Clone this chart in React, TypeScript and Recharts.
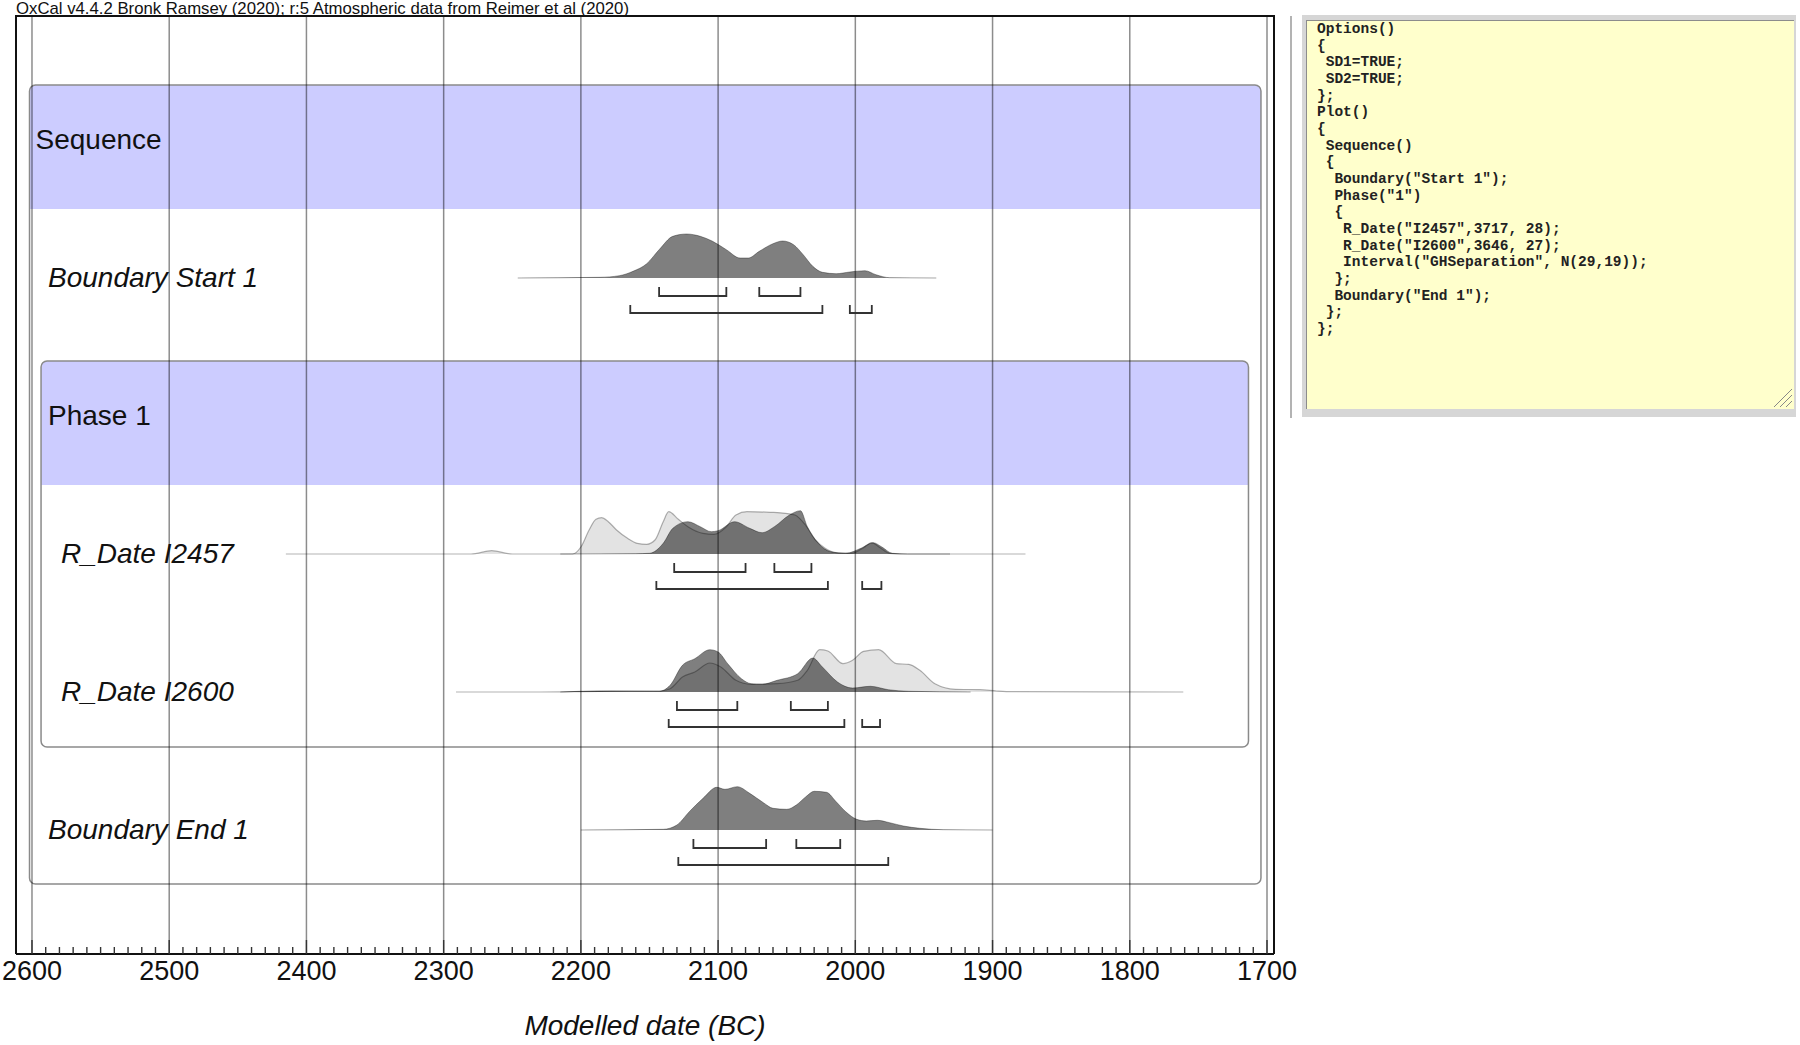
import React from 'react';
import { ComposedChart, Area, Line, XAxis, YAxis, ReferenceLine, ReferenceArea } from 'recharts';

type Pt = [number, number];
type Range = [number, number];

// relative probability: [year BC, height]
const boundaryStart1: Pt[] = [
  [2246, 0], [2186, 0.7], [2172, 2.3], [2162, 6.7], [2152, 14.3], [2143, 28.3], [2133, 41.7],
  [2123, 44], [2113, 41.7], [2104, 36.7], [2094, 28.3], [2084, 20], [2078, 20], [2070, 26.7],
  [2060, 34.3], [2053, 37], [2045, 33.3], [2038, 23.3], [2031, 11.7], [2024, 5.7], [2014, 4.3],
  [2004, 6], [1993, 7.3], [1985, 3.3], [1975, 0.3], [1941, 0],
];

const i2457Likelihood: Pt[] = [
  [2415, 0], [2280, 0], [2265, 3.3], [2250, 0], [2206, 0], [2200, 7], [2194, 24], [2189, 34.7],
  [2185, 36.3], [2180, 32.3], [2174, 24], [2166, 15.7], [2159, 10.7], [2152, 9.7], [2146, 14],
  [2140, 32.3], [2136, 42.3], [2129, 34.7], [2122, 27.3], [2111, 20.7], [2103, 19.7], [2094, 27.3],
  [2087, 39], [2079, 42.3], [2062, 41.7], [2051, 40.7], [2044, 39], [2036, 28.3], [2029, 14],
  [2022, 5.7], [2014, 1.3], [2003, 0.7], [1994, 6.3], [1988, 11.3], [1983, 7.3], [1975, 0.7],
  [1966, 0], [1876, 0],
];

const i2457Posterior: Pt[] = [
  [2215, 0], [2160, 0.3], [2150, 0.7], [2140, 10.7], [2133, 25.7], [2122, 32.3], [2113, 27.3],
  [2105, 22.3], [2100, 23.3], [2088, 32.3], [2077, 25.7], [2068, 21.3], [2059, 27.3], [2048, 39],
  [2040, 43.3], [2035, 27.3], [2027, 10.7], [2018, 2.3], [2007, 0.7], [1996, 5.7], [1987, 11.3],
  [1981, 7.3], [1973, 0.7], [1962, 0], [1931, 0],
];

const i2600Likelihood: Pt[] = [
  [2291, 0], [2230, 0], [2187, 0.7], [2143, 1], [2135, 3.3], [2126, 15], [2117, 20], [2106, 29],
  [2098, 25], [2087, 11.7], [2076, 7.7], [2057, 8.3], [2042, 11.7], [2035, 21.7], [2026, 42.3],
  [2020, 41], [2009, 28.3], [2002, 31.7], [1994, 40.7], [1983, 42.3], [1970, 28.3], [1961, 27.7],
  [1953, 21.7], [1942, 8.3], [1927, 2.7], [1909, 2.3], [1897, 1], [1886, 0.3], [1761, 0],
];

const i2600Posterior: Pt[] = [
  [2215, 0], [2187, 1], [2143, 0.7], [2135, 6.7], [2126, 26.7], [2117, 33.3], [2106, 42.3],
  [2100, 40], [2093, 28.3], [2083, 13.3], [2076, 8.3], [2068, 7.7], [2057, 11.7], [2042, 18.3],
  [2031, 34], [2024, 25], [2013, 10], [2002, 4], [1989, 5.7], [1976, 2.3], [1961, 0.7], [1916, 0],
];

const boundaryEnd1: Pt[] = [
  [2200, 0], [2140, 0.7], [2130, 5], [2121, 18.3], [2111, 31.7], [2101, 42.7], [2095, 40.7],
  [2086, 43.3], [2077, 36.7], [2067, 27.3], [2060, 21.7], [2050, 20.7], [2043, 25], [2036, 33.3],
  [2030, 38.7], [2021, 37.7], [2014, 28.3], [2007, 18.3], [1999, 10.7], [1992, 9], [1984, 9.7],
  [1975, 7.3], [1965, 4], [1953, 1.7], [1936, 0.3], [1900, 0],
];

// hpd ranges, years BC
const start1Hpd68: Range[] = [[2143, 2094], [2070, 2040]];
const start1Hpd95: Range[] = [[2164, 2024], [2004, 1988]];
const i2457Hpd68: Range[] = [[2132, 2080], [2059, 2032]];
const i2457Hpd95: Range[] = [[2145, 2020], [1995, 1981]];
const i2600Hpd68: Range[] = [[2130, 2086], [2047, 2020]];
const i2600Hpd95: Range[] = [[2136, 2008], [1995, 1982]];
const end1Hpd68: Range[] = [[2118, 2065], [2043, 2011]];
const end1Hpd95: Range[] = [[2129, 1976]];

const centuryTicks = [2600, 2500, 2400, 2300, 2200, 2100, 2000, 1900, 1800, 1700];
const decadeTicks = centuryTicks
  .slice(0, -1)
  .flatMap((c) => Array.from({ length: 10 }, (_, i) => c - i * 10))
  .concat(1700);

const codeLines = [
  'Options()',
  '{',
  ' SD1=TRUE;',
  ' SD2=TRUE;',
  '};',
  'Plot()',
  '{',
  ' Sequence()',
  ' {',
  '  Boundary("Start 1");',
  '  Phase("1")',
  '  {',
  '   R_Date("I2457",3717, 28);',
  '   R_Date("I2600",3646, 27);',
  '   Interval("GHSeparation", N(29,19));',
  '  };',
  '  Boundary("End 1");',
  ' };',
  '};',
];

const titleText = 'OxCal v4.4.2 Bronk Ramsey (2020); r:5 Atmospheric data from Reimer et al (2020)';

// layout
const W = 1800;
const H = 1045;
const PLOT_TOP = 16;
const PLOT_LEFT = 16;
const PLOT_RIGHT = 1274;
const AXIS_Y = 954;
const X_DOMAIN: [number, number] = [1694.9, 2611.65];
const SANS = '"Liberation Sans", Arial, Helvetica, sans-serif';

const rows = [
  { name: 'Boundary Start 1', labelX: 48, base: 278, likelihood: null as Pt[] | null, posterior: boundaryStart1, hpd68: start1Hpd68, hpd95: start1Hpd95 },
  { name: 'R_Date I2457', labelX: 61, base: 554, likelihood: i2457Likelihood, posterior: i2457Posterior, hpd68: i2457Hpd68, hpd95: i2457Hpd95 },
  { name: 'R_Date I2600', labelX: 61, base: 692, likelihood: i2600Likelihood, posterior: i2600Posterior, hpd68: i2600Hpd68, hpd95: i2600Hpd95 },
  { name: 'Boundary End 1', labelX: 48, base: 830, likelihood: null as Pt[] | null, posterior: boundaryEnd1, hpd68: end1Hpd68, hpd95: end1Hpd95 },
];

const groups = [
  { name: 'Sequence', from: 2601.8, to: 1704.4, top: 85, headBottom: 209, bottom: 884, labelX: 35.5, labelY: 149 },
  { name: 'Phase 1', from: 2593.4, to: 1713.5, top: 361, headBottom: 485, bottom: 747, labelX: 48, labelY: 425 },
];

const toArea = (pts: Pt[], base: number) => pts.map(([year, p]) => ({ year, y: base - p }));

const bracket = ([a, b]: Range, yLine: number, yTop: number) => [
  { year: a, y: yTop },
  { year: a, y: yLine },
  { year: b, y: yLine },
  { year: b, y: yTop },
];

function YearTick(props: any) {
  const { x, y, payload } = props;
  const yr = payload.value as number;
  const major = yr % 100 === 0;
  return (
    <g>
      <line x1={x} x2={x} y1={y} y2={y - (major ? 14 : 7)} stroke="#333" strokeWidth={1.4} />
      {major && (
        <text x={x} y={y + 25.5} textAnchor="middle" fontSize={27} fontFamily={SANS} fill="#111">
          {yr}
        </text>
      )}
    </g>
  );
}

const headShape = (p: any) => {
  const { x, y, width, height } = p;
  const r = 6;
  return (
    <path
      d={`M${x},${y + height} V${y + r} Q${x},${y} ${x + r},${y} H${x + width - r} Q${x + width},${y} ${x + width},${y + r} V${y + height} Z`}
      fill="#ccccff"
    />
  );
};

const boxShape = (p: any) => (
  <rect x={p.x} y={p.y} width={p.width} height={p.height} rx={6} ry={6} fill="none" stroke="#8a8a8a" strokeWidth={1.5} />
);

export default function App() {
  return (
    <div style={{ position: 'absolute', left: 0, top: 0, width: W, height: H, background: '#fff', overflow: 'hidden' }}>
      <ComposedChart
        width={W}
        height={H}
        margin={{ top: PLOT_TOP, left: PLOT_LEFT, right: W - PLOT_RIGHT, bottom: 0 }}
      >
        <XAxis
          type="number"
          dataKey="year"
          domain={X_DOMAIN}
          reversed
          allowDataOverflow
          ticks={decadeTicks}
          interval={0}
          height={H - AXIS_Y}
          tickSize={0}
          tickMargin={0}
          tickLine={false}
          axisLine={{ stroke: '#111', strokeWidth: 2 }}
          tick={(p: any) => <YearTick {...p} />}
        />
        <YAxis type="number" domain={[PLOT_TOP, AXIS_Y]} reversed allowDataOverflow hide />

        {groups.map((g) => (
          <ReferenceArea key={g.name + 'h'} x1={g.from} x2={g.to} y1={g.top} y2={g.headBottom} shape={headShape} />
        ))}
        {groups.map((g) => (
          <ReferenceArea key={g.name + 'b'} x1={g.from} x2={g.to} y1={g.top} y2={g.bottom} shape={boxShape} />
        ))}

        {centuryTicks.map((yr) => (
          <ReferenceLine key={yr} x={yr} stroke="#000" strokeOpacity={0.45} strokeWidth={1.5} />
        ))}

        {rows.map((r) =>
          r.likelihood ? (
            <Area
              key={r.name + 'l'}
              data={toArea(r.likelihood, r.base)}
              dataKey="y"
              baseValue={r.base}
              type="monotone"
              fill="#000"
              fillOpacity={0.11}
              stroke="#000"
              strokeOpacity={0.3}
              strokeWidth={1.2}
              dot={false}
              activeDot={false}
              isAnimationActive={false}
            />
          ) : null
        )}
        {rows.map((r) => (
          <Area
            key={r.name + 'p'}
            data={toArea(r.posterior, r.base)}
            dataKey="y"
            baseValue={r.base}
            type="monotone"
            fill="#000"
            fillOpacity={0.5}
            stroke="#000"
            strokeOpacity={0.35}
            strokeWidth={1}
            dot={false}
            activeDot={false}
            isAnimationActive={false}
          />
        ))}

        {rows.flatMap((r) => [
          ...r.hpd68.map((rg, i) => (
            <Line
              key={r.name + '68' + i}
              data={bracket(rg, r.base + 18, r.base + 9)}
              dataKey="y"
              type="linear"
              stroke="#333"
              strokeWidth={1.8}
              dot={false}
              activeDot={false}
              isAnimationActive={false}
            />
          )),
          ...r.hpd95.map((rg, i) => (
            <Line
              key={r.name + '95' + i}
              data={bracket(rg, r.base + 35, r.base + 27)}
              dataKey="y"
              type="linear"
              stroke="#333"
              strokeWidth={1.8}
              dot={false}
              activeDot={false}
              isAnimationActive={false}
            />
          )),
        ])}
      </ComposedChart>

      <svg width={W} height={H} style={{ position: 'absolute', left: 0, top: 0, pointerEvents: 'none' }}>
        <text
          x={16}
          y={14}
          fontSize={17}
          fontFamily={'"Liberation Sans Narrow", ' + SANS}
          textLength={613}
          lengthAdjust="spacingAndGlyphs"
          fill="#111"
        >
          {titleText}
        </text>
        <polyline
          points={`${PLOT_LEFT},${AXIS_Y} ${PLOT_LEFT},${PLOT_TOP} ${PLOT_RIGHT},${PLOT_TOP} ${PLOT_RIGHT},${AXIS_Y}`}
          fill="none"
          stroke="#111"
          strokeWidth={2}
        />
        {groups.map((g) => (
          <text key={g.name} x={g.labelX} y={g.labelY} fontSize={28} fontFamily={SANS} fill="#111">
            {g.name}
          </text>
        ))}
        {rows.map((r) => (
          <text key={r.name} x={r.labelX} y={r.base + 9} fontSize={28} fontStyle="italic" fontFamily={SANS} fill="#111">
            {r.name}
          </text>
        ))}
        <text x={645} y={1035} textAnchor="middle" fontSize={28} fontStyle="italic" fontFamily={SANS} fill="#111">
          Modelled date (BC)
        </text>
        <line x1={1291} x2={1291} y1={16} y2={418} stroke="#9a9a9a" strokeWidth={1.5} />
      </svg>

      <div style={{ position: 'absolute', left: 1302, top: 15, width: 494, height: 402, background: '#d6d6d6' }} />
      <div
        style={{
          position: 'absolute',
          left: 1306,
          top: 20,
          width: 488,
          height: 389,
          boxSizing: 'border-box',
          background: '#ffffcc',
          borderTop: '1px solid #8c8c8c',
          borderLeft: '1px solid #8c8c8c',
        }}
      >
        <pre
          style={{
            margin: 0,
            padding: '0 0 0 10px',
            fontFamily: '"Liberation Mono", "DejaVu Sans Mono", monospace',
            fontSize: 14.5,
            fontWeight: 'bold',
            lineHeight: '16.67px',
            color: '#222',
          }}
        >
          {codeLines.join('\n')}
        </pre>
        <svg width={22} height={22} style={{ position: 'absolute', right: 1, bottom: 1 }}>
          <line x1={21} y1={3} x2={3} y2={21} stroke="#888" strokeWidth={1} />
          <line x1={21} y1={9} x2={9} y2={21} stroke="#888" strokeWidth={1} />
          <line x1={21} y1={15} x2={15} y2={21} stroke="#888" strokeWidth={1} />
        </svg>
      </div>
    </div>
  );
}
